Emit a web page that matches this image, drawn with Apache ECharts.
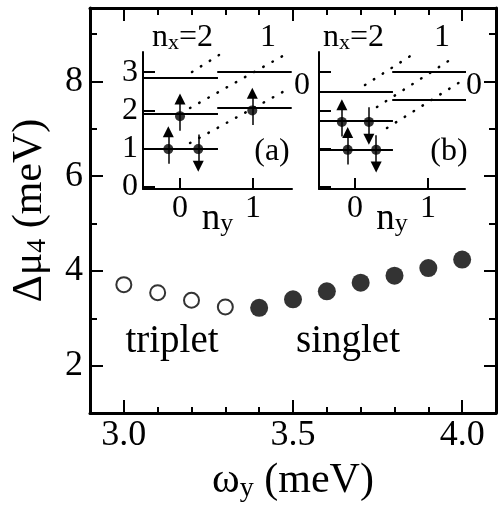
<!DOCTYPE html>
<html><head><meta charset="utf-8">
<script src="https://cdn.jsdelivr.net/npm/echarts@6/dist/echarts.min.js"></script>
<style>html,body{margin:0;padding:0;background:#fff}#c{width:499px;height:508px}</style>
</head><body><div id="c"></div>
<script>
// ---- main data ----
const tripletX = [3.0, 3.1, 3.2, 3.3];
const tripletY = [3.71, 3.54, 3.38, 3.24];
const singletX = [3.4, 3.5, 3.6, 3.7, 3.8, 3.9, 4.0];
const singletY = [3.22, 3.40, 3.57, 3.75, 3.90, 4.06, 4.24];
const xTickLabels = [3.0, 3.5, 4.0];
const yTickLabels = [2, 4, 6, 8];
// ---- inset data (n_y axis, energy axis) ----
const colNx2 = [-0.5, 0.52];
const colNx1 = [0.51, 1.53];
const levelsA_nx2 = [0.99, 1.91, 2.85];
const levelsA_nx1 = [2.06, 3.0];
const levelsB_nx2 = [0.97, 1.72, 2.48];
const levelsB_nx1 = [2.27, 3.0];
const dotsA = [[-0.16, 0.99, 1], [0.25, 0.99, -1], [0.0, 1.85, 1], [0.99, 2.0, 1]];
const dotsB = [[-0.18, 1.70, 1], [0.19, 1.70, -1], [-0.10, 0.97, 1], [0.29, 0.97, -1]];
const dottedA = [[[0.137, 1.149], [1.507, 2.585]], [[0.137, 2.063], [1.479, 3.499]], [[0.164, 3.003], [0.534, 3.446]]];
const dottedB = [[[0.137, 2.663], [0.822, 3.499]], [[0.301, 2.089], [1.342, 3.368]], [[0.438, 1.540], [1.438, 2.742]]];
const insetXTicks = [0, 1];
const insetYTicks = [0, 1, 2, 3];

const FF = '"Liberation Serif","DejaVu Serif",serif';
const chart = echarts.init(document.getElementById('c'), null, {renderer: 'canvas'});

function levelSegs(levels, col) {
  return levels.map(v => ({coords: [[col[0], v], [col[1], v]]}));
}
function arrowSegs(dots) {
  return dots.map(d => {
    const [x, y, dir] = d;
    return {coords: [[x, y - 0.38 * dir], [x, y + 0.45 * dir]]};
  });
}
function insetSeries(idx, l2, l1, dots, dotted) {
  return [
    {type: 'lines', coordinateSystem: 'cartesian2d', xAxisIndex: idx, yAxisIndex: idx,
     data: levelSegs(l2, colNx2).concat(levelSegs(l1, colNx1)),
     lineStyle: {color: '#000', width: 2, opacity: 1}, symbol: 'none', silent: true},
    {type: 'lines', coordinateSystem: 'cartesian2d', xAxisIndex: idx, yAxisIndex: idx,
     data: dotted.map(s => ({coords: s})),
     lineStyle: {color: '#000', width: 2.5, type: [0.5, 10], cap: 'round', opacity: 1}, symbol: 'none', silent: true},
    {type: 'lines', coordinateSystem: 'cartesian2d', xAxisIndex: idx, yAxisIndex: idx,
     data: arrowSegs(dots),
     lineStyle: {color: '#000', width: 1.5, opacity: 1}, symbol: ['none', 'triangle'], symbolSize: [8, 11], silent: true},
    {type: 'scatter', xAxisIndex: idx, yAxisIndex: idx, data: dots.map(d => [d[0], d[1]]),
     symbol: 'circle', symbolSize: 10, itemStyle: {color: '#000'}, silent: true}
  ];
}

const tickStyle = {color: '#000', width: 2};
const mainRange = {min: 2.9, max: 4.1};
const yRange = {min: 1, max: 9.55};
const subRich = (fs, base, lh, off) => ({
  b: {fontSize: base, fontFamily: FF, color: '#000', lineHeight: lh},
  s: {fontSize: fs, fontFamily: FF, color: '#000', lineHeight: off, verticalAlign: 'bottom'}
});
const line3 = {onZero: false, lineStyle: {color: '#000', width: 3}};
const line2 = {onZero: false, lineStyle: {color: '#000', width: 2}};

const option = {
  animation: false,
  backgroundColor: '#fff',
  grid: [
    {left: 90, top: 8, right: 3, bottom: 90},
    {left: 143, top: 52, width: 149, height: 137},
    {left: 319, top: 52, width: 146, height: 137}
  ],
  xAxis: [
    {type: 'value', gridIndex: 0, position: 'bottom', ...mainRange,
     axisLine: line3,
     axisTick: {inside: true, length: 13, lineStyle: tickStyle, customValues: xTickLabels},
     axisLabel: {customValues: xTickLabels, formatter: v => v.toFixed(1), color: '#000', fontSize: 36, fontFamily: FF, margin: 5},
     splitLine: {show: false},
     name: '{b|ω}{s|y}{b| (meV)}', nameLocation: 'middle', nameGap: 46,
     nameTextStyle: {rich: subRich(28, 42, 44, 18)}},
    {type: 'value', gridIndex: 0, position: 'bottom', ...mainRange, interval: 0.1,
     axisLine: {show: false, onZero: false}, axisTick: {inside: true, length: 6, lineStyle: tickStyle},
     axisLabel: {show: false}, splitLine: {show: false}},
    {type: 'value', gridIndex: 0, position: 'top', ...mainRange,
     axisLine: line3,
     axisTick: {inside: true, length: 13, lineStyle: tickStyle, customValues: xTickLabels},
     axisLabel: {show: false}, splitLine: {show: false}},
    {type: 'value', gridIndex: 0, position: 'top', ...mainRange, interval: 0.1,
     axisLine: {show: false, onZero: false}, axisTick: {inside: true, length: 7, lineStyle: tickStyle},
     axisLabel: {show: false}, splitLine: {show: false}},
    {type: 'value', gridIndex: 1, min: -0.507, max: 1.534, position: 'bottom',
     axisLine: line2,
     axisTick: {inside: true, length: 11, lineStyle: tickStyle, customValues: insetXTicks},
     axisLabel: {customValues: insetXTicks, color: '#000', fontSize: 32, fontFamily: FF, margin: 4},
     splitLine: {show: false},
     name: '{b|n}{s|y}', nameLocation: 'middle', nameGap: 12, nameMoveOverlap: false,
     nameTextStyle: {rich: subRich(26, 37, 36, 16)}},
    {type: 'value', gridIndex: 2, min: -0.493, max: 1.507, position: 'bottom',
     axisLine: line2,
     axisTick: {inside: true, length: 11, lineStyle: tickStyle, customValues: insetXTicks},
     axisLabel: {customValues: insetXTicks, color: '#000', fontSize: 32, fontFamily: FF, margin: 4},
     splitLine: {show: false},
     name: '{b|n}{s|y}', nameLocation: 'middle', nameGap: 12, nameMoveOverlap: false,
     nameTextStyle: {rich: subRich(26, 37, 36, 16)}}
  ],
  yAxis: [
    {type: 'value', gridIndex: 0, position: 'left', ...yRange,
     axisLine: line3,
     axisTick: {inside: true, length: 13, lineStyle: tickStyle, customValues: yTickLabels},
     axisLabel: {customValues: yTickLabels, color: '#000', fontSize: 36, fontFamily: FF, margin: 7},
     splitLine: {show: false},
     name: '{b|Δμ}{s|4}{b| (meV)}', nameLocation: 'middle', nameGap: 38, nameRotate: 90,
     nameTextStyle: {rich: subRich(28, 42, 44, 18)}},
    {type: 'value', gridIndex: 0, position: 'left', ...yRange, interval: 1,
     axisLine: {show: false, onZero: false}, axisTick: {inside: true, length: 7, lineStyle: tickStyle},
     axisLabel: {show: false}, splitLine: {show: false}},
    {type: 'value', gridIndex: 0, position: 'right', ...yRange,
     axisLine: line3,
     axisTick: {inside: true, length: 12, lineStyle: tickStyle, customValues: yTickLabels},
     axisLabel: {show: false}, splitLine: {show: false}},
    {type: 'value', gridIndex: 0, position: 'right', ...yRange, interval: 1,
     axisLine: {show: false, onZero: false}, axisTick: {inside: true, length: 7, lineStyle: tickStyle},
     axisLabel: {show: false}, splitLine: {show: false}},
    {type: 'value', gridIndex: 1, min: -0.052, max: 3.525, position: 'left',
     axisLine: line2,
     axisTick: {inside: true, length: 12, lineStyle: tickStyle, customValues: insetYTicks},
     axisLabel: {customValues: insetYTicks, color: '#000', fontSize: 32, fontFamily: FF, margin: 5},
     splitLine: {show: false}},
    {type: 'value', gridIndex: 2, min: -0.052, max: 3.525, position: 'left',
     axisLine: line2,
     axisTick: {inside: true, length: 12, lineStyle: tickStyle, customValues: insetYTicks},
     axisLabel: {show: false},
     splitLine: {show: false}}
  ],
  series: [
    {type: 'scatter', xAxisIndex: 0, yAxisIndex: 0, data: tripletX.map((x, i) => [x, tripletY[i]]),
     symbol: 'circle', symbolSize: 15, itemStyle: {color: '#fff', borderColor: '#000', borderWidth: 2}},
    {type: 'scatter', xAxisIndex: 0, yAxisIndex: 0, data: singletX.map((x, i) => [x, singletY[i]]),
     symbol: 'circle', symbolSize: 18, itemStyle: {color: '#000'}}
  ].concat(insetSeries(4, levelsA_nx2, levelsA_nx1, dotsA, dottedA))
   .concat(insetSeries(5, levelsB_nx2, levelsB_nx1, dotsB, dottedB)),
  graphic: [
    {type: 'text', x: 172, y: 342, style: {text: 'triplet', fill: '#000', font: '39px ' + FF, align: 'center', verticalAlign: 'middle'}},
    {type: 'text', x: 348, y: 342, style: {text: 'singlet', fill: '#000', font: '39px ' + FF, align: 'center', verticalAlign: 'middle'}},
    {type: 'text', x: 152, y: 38, style: {text: '{b|n}{s|x}{b|=2}', align: 'left', verticalAlign: 'middle', rich: subRich(22, 32, 32, 14)}},
    {type: 'text', x: 323, y: 38, style: {text: '{b|n}{s|x}{b|=2}', align: 'left', verticalAlign: 'middle', rich: subRich(22, 32, 32, 14)}},
    {type: 'text', x: 268, y: 38, style: {text: '1', fill: '#000', font: '32px ' + FF, align: 'center', verticalAlign: 'middle'}},
    {type: 'text', x: 442, y: 38, style: {text: '1', fill: '#000', font: '32px ' + FF, align: 'center', verticalAlign: 'middle'}},
    {type: 'text', x: 302, y: 86, style: {text: '0', fill: '#000', font: '32px ' + FF, align: 'center', verticalAlign: 'middle'}},
    {type: 'text', x: 474, y: 86, style: {text: '0', fill: '#000', font: '32px ' + FF, align: 'center', verticalAlign: 'middle'}},
    {type: 'text', x: 272, y: 152, style: {text: '(a)', fill: '#000', font: '32px ' + FF, align: 'center', verticalAlign: 'middle'}},
    {type: 'text', x: 449, y: 152, style: {text: '(b)', fill: '#000', font: '32px ' + FF, align: 'center', verticalAlign: 'middle'}}
  ]
};
chart.setOption(option);
</script></body></html>
